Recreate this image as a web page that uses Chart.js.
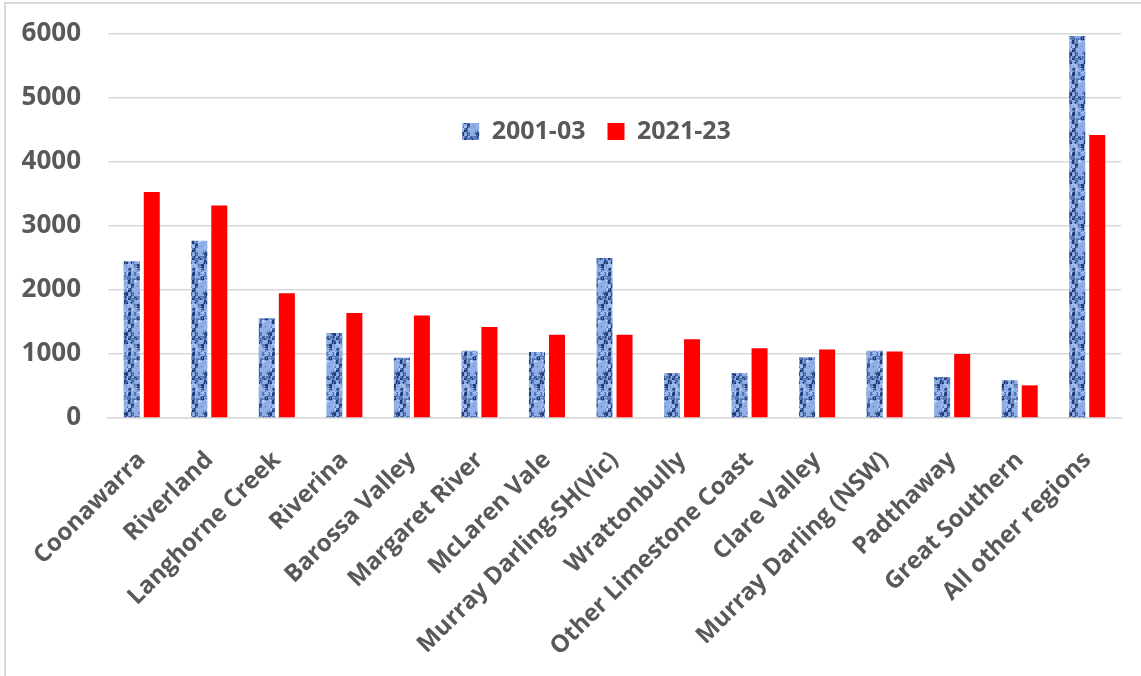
<!DOCTYPE html>
<html>
<head>
<meta charset="utf-8">
<script src="https://cdn.jsdelivr.net/npm/chart.js@4.4.1/dist/chart.umd.min.js"></script>
<style>
html, body { margin: 0; padding: 0; background: #fff; overflow: hidden; }
#wrap { position: relative; width: 1141px; height: 676px; }
#frame { position: absolute; left: 4px; top: 2px; right: -10px; bottom: -10px;
  border-top: 2px solid #d9d9d9; border-left: 2px solid #d9d9d9; pointer-events: none; }
canvas { position: absolute; left: 0; top: 0; }
</style>
</head>
<body>
<div id="wrap">
  <canvas id="chart" width="1141" height="676"></canvas>
  <div id="frame"></div>
</div>
<script>
const regions = ["Coonawarra", "Riverland", "Langhorne Creek", "Riverina", "Barossa Valley",
    "Margaret River", "McLaren Vale", "Murray Darling-SH(Vic)", "Wrattonbully",
    "Other Limestone Coast", "Clare Valley", "Murray Darling (NSW)", "Padthaway",
    "Great Southern", "All other regions"];
const years0103 = [2450, 2770, 1560, 1330, 940, 1050, 1030, 2500, 700, 700, 950, 1050, 640, 590, 5970];
const years2123 = [3530, 3320, 1950, 1640, 1600, 1420, 1300, 1300, 1230, 1090, 1070, 1040, 1000, 510, 4420];
const yTicks = [0, 1000, 2000, 3000, 4000, 5000, 6000];

const textColor = '#595959';
const family = "'Open Sans', sans-serif";

// mottled blue fill for the 2001-03 bars
function hash(x, y) {
    const s = Math.sin(x * 127.1 + y * 311.7) * 43758.5453;
    return s - Math.floor(s);
}
function makeTexture() {
    const c = document.createElement('canvas');
    c.width = 16; c.height = 40;
    const g = c.getContext('2d');
    for (let y = 0; y < c.height; y++) {
        for (let x = 0; x < c.width; x++) {
            const v = hash(Math.floor(x / 3), Math.floor(y / 4)) * 0.6
                + hash(Math.floor(x / 2), Math.floor(y / 2) + 50) * 0.25 + hash(x, y) * 0.15;
            g.fillStyle = v < 0.3 ? '#213f76' : v < 0.48 ? '#5577b8' : v < 0.78 ? '#8eaee5' : '#bcd2f5';
            g.fillRect(x, y, 1, 1);
        }
    }
    return g.createPattern(c, 'repeat');
}

// legend laid out as one row and moved down inside the plot
const legendShift = {
    id: 'legendShift',
    beforeLayout(chart) {
        chart.legend.isHorizontal = () => true;
    },
    afterLayout(chart) {
        const lg = chart.legend;
        const area = chart.chartArea;
        lg.left = area.left - 18;
        lg.right = area.right - 18;
        lg.width = lg.right - lg.left;
        lg.top = 97;
        lg.bottom = lg.top + lg.height;
    }
};

const ctx = document.getElementById('chart');
new Chart(ctx, {
    type: 'bar',
    data: {
        labels: regions,
        datasets: [
            {
                label: '2001-03',
                data: years0103,
                backgroundColor: makeTexture(),
                barPercentage: 0.8,
                categoryPercentage: 0.593
            },
            {
                label: '2021-23',
                data: years2123,
                backgroundColor: '#ff0000',
                barPercentage: 0.8,
                categoryPercentage: 0.593
            }
        ]
    },
    options: {
        responsive: false,
        animation: false,
        devicePixelRatio: 1,
        layout: { padding: { top: 34, right: 20, left: 0, bottom: 0 } },
        plugins: {
            legend: {
                position: 'chartArea',
                labels: {
                    boxWidth: 17, boxHeight: 17, padding: 22, color: textColor,
                    font: { family: family, size: 25, weight: 'bold' }
                }
            },
            tooltip: { enabled: false }
        },
        scales: {
            x: {
                grid: { display: false, drawTicks: false },
                border: { color: '#d9d9d9', width: 1.5 },
                ticks: {
                    autoSkip: false, maxRotation: 45, minRotation: 45, padding: 28, color: textColor,
                    font: { family: family, size: 24, weight: 'bold' }
                },
                afterFit: (s) => { s.height = 258; }
            },
            y: {
                min: 0,
                max: 6000,
                afterBuildTicks: (s) => { s.ticks = yTicks.map(v => ({ value: v })); },
                ticks: {
                    padding: 27, color: textColor, callback: (v) => String(v),
                    font: { family: family, size: 26, weight: 'bold' }
                },
                grid: { color: '#d9d9d9', lineWidth: 1.5, drawTicks: false },
                border: { display: false },
                afterFit: (s) => { s.width = 108; s.paddingTop = 0; s.paddingBottom = 0; }
            }
        }
    },
    plugins: [legendShift]
});
</script>
</body>
</html>
